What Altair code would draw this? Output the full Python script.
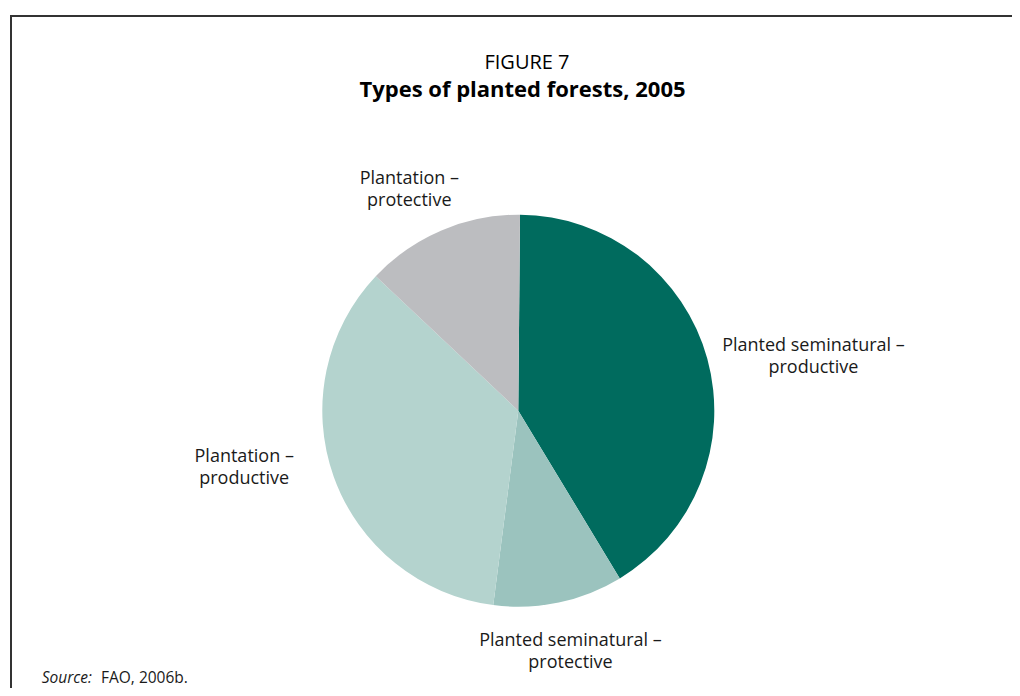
import math
import altair as alt
import pandas as pd

# ---- data ----
categories = [
    "Planted seminatural – productive",
    "Planted seminatural – protective",
    "Plantation – productive",
    "Plantation – protective",
]
shares = [41.2, 10.7, 35.0, 13.1]  # percent of planted forest area
label_text = [
    "Planted seminatural –\nproductive",
    "Planted seminatural –\nprotective",
    "Plantation –\nproductive",
    "Plantation –\nprotective",
]
title_line1 = "FIGURE 7"
title_line2 = "Types of planted forests, 2005"
source_italic = "Source:"
source_rest = "FAO, 2006b."

# ---- styling / layout (not data) ----
colors = ["#006B5E", "#9BC3BE", "#B4D3CE", "#BCBDC0"]
label_angle_deg = [79.7, 167.8, 258.2, 333.7]   # label anchor, clockwise from 12 o'clock
label_radius_px = [300, 247, 280, 246]
FONT = "Open Sans"
TXT = "#1a1a1a"
W, H = 987.4, 554.6
PAD = {"left": 16.6, "top": 125.4, "right": 0, "bottom": 0}
START = math.radians(0.5)
TWO_PI = 2 * math.pi

pie_df = pd.DataFrame({"category": categories, "share": shares, "order": list(range(len(categories)))})
lab_df = pd.DataFrame({"label": label_text, "angle": label_angle_deg, "r": label_radius_px})
one = pd.DataFrame({"k": [0]})

pie = alt.Chart(pie_df).mark_arc(radius=196).encode(
    theta=alt.Theta("share:Q", stack=True, scale=alt.Scale(range=[START, START + TWO_PI])),
    color=alt.Color("category:N", scale=alt.Scale(domain=categories, range=colors), legend=None),
    order=alt.Order("order:Q"),
)

labels = alt.Chart(lab_df).mark_text(
    font=FONT, fontSize=18, lineBreak="\n", lineHeight=22, dy=-11,
    align="center", baseline="middle", color=TXT,
).encode(
    theta=alt.Theta("angle:Q", scale=alt.Scale(domain=[0, 360], range=[0, TWO_PI])),
    radius=alt.Radius("r:Q", scale=None),
    text="label:N",
)

title1 = alt.Chart(one).mark_text(
    font=FONT, fontSize=20, align="center", baseline="middle", color="#000000", text=title_line1,
).encode(x=alt.value(502.4), y=alt.value(-70.4))

title2 = alt.Chart(one).mark_text(
    font=FONT, fontSize=22, fontWeight="bold", align="center", baseline="middle",
    color="#000000", text=title_line2,
).encode(x=alt.value(497.9), y=alt.value(-43.4))

src1 = alt.Chart(one).mark_text(
    font=FONT, fontSize=15.5, fontStyle="italic", align="left", baseline="middle", color=TXT,
    text=source_italic,
).encode(x=alt.value(17.1), y=alt.value(544.6))

src2 = alt.Chart(one).mark_text(
    font=FONT, fontSize=15.5, align="left", baseline="middle", color=TXT,
    text=source_rest,
).encode(x=alt.value(76.4), y=alt.value(544.6))

frame_top = alt.Chart(one).mark_rule(color="#333333", strokeWidth=2).encode(
    x=alt.value(-13.6), x2=alt.value(1000), y=alt.value(-117.4)
)
frame_left = alt.Chart(one).mark_rule(color="#333333", strokeWidth=2).encode(
    x=alt.value(-13.6), y=alt.value(-118.4), y2=alt.value(600)
)

chart = (
    alt.layer(frame_top, frame_left, pie, labels, title1, title2, src1, src2)
    .resolve_scale(theta="independent")
    .properties(
        width=W,
        height=H,
        padding=PAD,
        autosize=alt.AutoSizeParams(type="none"),
    )
    .configure_view(stroke=None)
)

chart.save("out.html", embed_options={"renderer": "svg", "actions": False})
